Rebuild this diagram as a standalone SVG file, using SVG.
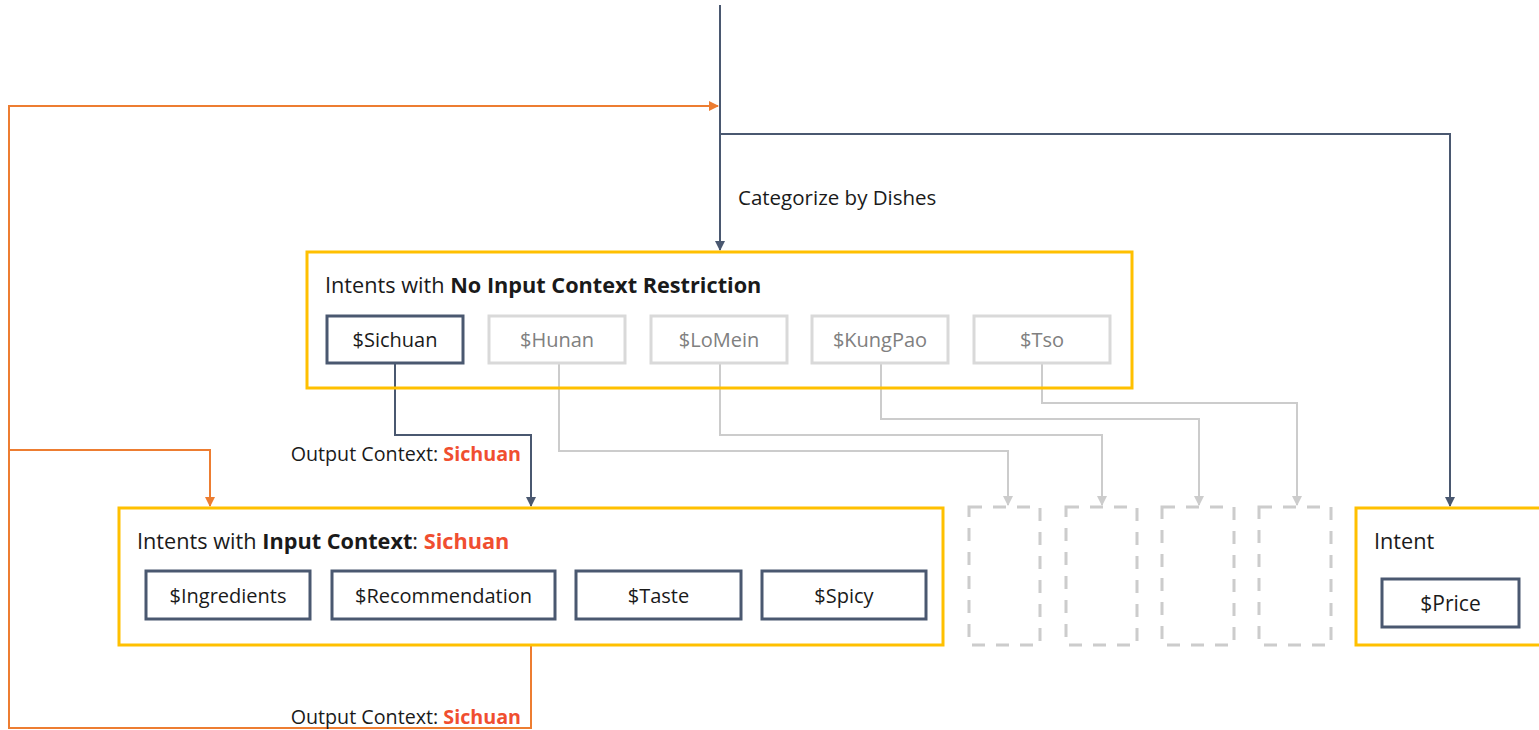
<svg xmlns="http://www.w3.org/2000/svg" width="1539" height="730" viewBox="0 0 1539 730">
<defs>
<style>
text{font-family:"Open Sans","Liberation Sans",sans-serif;font-size:20px;fill:#1a1a1a}
.b{font-weight:bold}
.red{fill:#F04E30;font-weight:bold}
.grp{fill:none;stroke:#FFC000;stroke-width:3}
.chip{fill:#fff;stroke:#4A5870;stroke-width:3}
.gchip{fill:#fff;stroke:#D9D9D9;stroke-width:3}
.gt{fill:#808080}
.ct{text-anchor:middle}
.ttl{font-size:21.7px}
.dash{fill:none;stroke:#CCCCCC;stroke-width:3;stroke-dasharray:13 11}
.dk{fill:none;stroke:#4A5870;stroke-width:2}
.gl{fill:none;stroke:#CCCCCC;stroke-width:2}
.or{fill:none;stroke:#ED7D31;stroke-width:2}
.lbl{font-size:19.7px}
.cat{font-size:20.5px}
</style>
<marker id="ad" viewBox="0 0 10 10" refX="9" refY="5" markerWidth="10" markerHeight="10" markerUnits="userSpaceOnUse" orient="auto"><path d="M0,0L10,5L0,10z" fill="#4A5870"/></marker>
<marker id="ag" viewBox="0 0 10 10" refX="9" refY="5" markerWidth="10" markerHeight="10" markerUnits="userSpaceOnUse" orient="auto"><path d="M0,0L10,5L0,10z" fill="#CCCCCC"/></marker>
<marker id="ao" viewBox="0 0 10 10" refX="9" refY="5" markerWidth="10" markerHeight="10" markerUnits="userSpaceOnUse" orient="auto"><path d="M0,0L10,5L0,10z" fill="#ED7D31"/></marker>
</defs>
<rect width="1539" height="730" fill="#fff"/>
<g id="connectors">
<path class="dk" d="M720,5V250" marker-end="url(#ad)"/>
<path class="dk" d="M720,134H1450V506" marker-end="url(#ad)"/>
<path class="dk" d="M395,363V435H531V506" marker-end="url(#ad)"/>
<path class="gl" d="M559,363V451H1008V505" marker-end="url(#ag)"/>
<path class="gl" d="M720,363V435H1102V505" marker-end="url(#ag)"/>
<path class="gl" d="M881,363V419H1199V505" marker-end="url(#ag)"/>
<path class="gl" d="M1042,363V403H1297V505" marker-end="url(#ag)"/>
<path class="or" d="M531,646V728H9V106H718" marker-end="url(#ao)"/>
<path class="or" d="M9,450H210V506" marker-end="url(#ao)"/>
<text x="738" y="205" class="cat">Categorize by Dishes</text>
<text x="521" y="461" class="lbl" text-anchor="end">Output Context: <tspan class="red">Sichuan</tspan></text>
<text x="521" y="724" class="lbl" text-anchor="end">Output Context: <tspan class="red">Sichuan</tspan></text>
</g>
<g id="no-restriction">
<rect class="grp" x="307" y="252" width="825" height="136"/>
<text x="325" y="293" class="ttl">Intents with <tspan class="b">No Input Context Restriction</tspan></text>
</g>
<g id="sichuan"><rect class="chip" x="327" y="316" width="136" height="47"/><text class="ct" x="395" y="347">$Sichuan</text></g>
<g id="hunan"><rect class="gchip" x="489" y="316" width="136" height="47"/><text class="ct gt" x="557" y="347">$Hunan</text></g>
<g id="lomein"><rect class="gchip" x="651" y="316" width="136" height="47"/><text class="ct gt" x="719" y="347">$LoMein</text></g>
<g id="kungpao"><rect class="gchip" x="812" y="316" width="136" height="47"/><text class="ct gt" x="880" y="347">$KungPao</text></g>
<g id="tso"><rect class="gchip" x="974" y="316" width="136" height="47"/><text class="ct gt" x="1042" y="347">$Tso</text></g>
<g id="input-context">
<rect class="grp" x="119" y="508" width="824" height="137"/>
<text x="137" y="549" class="ttl">Intents with <tspan class="b">Input Context</tspan>: <tspan class="red">Sichuan</tspan></text>
</g>
<g id="ingredients"><rect class="chip" x="146" y="571" width="164" height="48"/><text class="ct" x="228" y="603">$Ingredients</text></g>
<g id="recommendation"><rect class="chip" x="332" y="571" width="223" height="48"/><text class="ct" x="443.5" y="603">$Recommendation</text></g>
<g id="taste"><rect class="chip" x="576" y="571" width="165" height="48"/><text class="ct" x="658.5" y="603">$Taste</text></g>
<g id="spicy"><rect class="chip" x="762" y="571" width="164" height="48"/><text class="ct" x="844" y="603">$Spicy</text></g>
<g id="empty1"><rect class="dash" x="969" y="507" width="71" height="138"/></g>
<g id="empty2"><rect class="dash" x="1066" y="507" width="71" height="138"/></g>
<g id="empty3"><rect class="dash" x="1162" y="507" width="72" height="138"/></g>
<g id="empty4"><rect class="dash" x="1259" y="507" width="72" height="138"/></g>
<g id="intent">
<rect class="grp" x="1356" y="508" width="200" height="137"/>
<text x="1374" y="549" class="ttl">Intent</text>
</g>
<g id="price"><rect class="chip" x="1382" y="579" width="137" height="48"/><text class="ct" x="1450.5" y="611" style="font-size:21px">$Price</text></g>
</svg>
